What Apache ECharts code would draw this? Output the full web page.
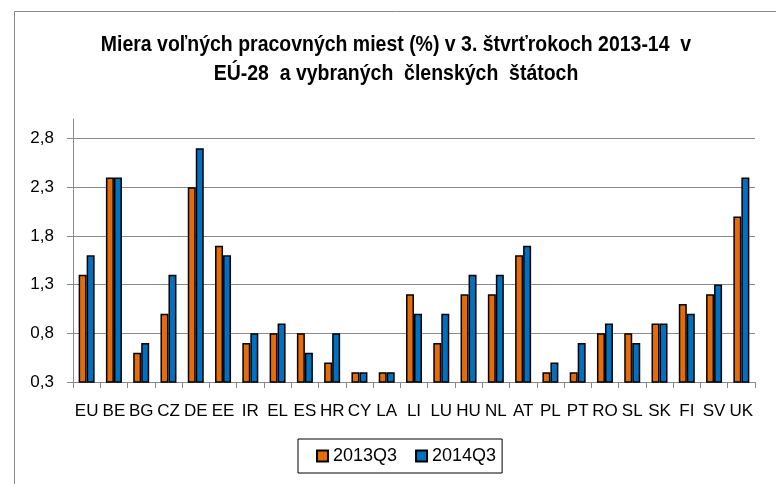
<!DOCTYPE html>
<html>
<head>
<meta charset="utf-8">
<script src="https://cdn.jsdelivr.net/npm/echarts@6/dist/echarts.min.js"></script>
<style>
  html, body { margin: 0; padding: 0; background: #fff; }
  #main { width: 776px; height: 484px; }
</style>
</head>
<body>
<div id="main"></div>
<script>
var countries = ['EU', 'BE', 'BG', 'CZ', 'DE', 'EE', 'IR', 'EL', 'ES', 'HR', 'CY', 'LA', 'LI',
  'LU', 'HU', 'NL', 'AT', 'PL', 'PT', 'RO', 'SL', 'SK', 'FI', 'SV', 'UK']
var q2013 = [1.4, 2.4, 0.6, 1.0, 2.3, 1.7, 0.7, 0.8, 0.8, 0.5, 0.4, 0.4, 1.2,
  0.7, 1.2, 1.2, 1.6, 0.4, 0.4, 0.8, 0.8, 0.9, 1.1, 1.2, 2.0]
var q2014 = [1.6, 2.4, 0.7, 1.4, 2.7, 1.6, 0.8, 0.9, 0.6, 0.8, 0.4, 0.4, 1.0,
  1.0, 1.4, 1.4, 1.7, 0.5, 0.7, 0.9, 0.7, 0.9, 1.0, 1.3, 2.4]
var yTicks = [0.3, 0.8, 1.3, 1.8, 2.3, 2.8]
var seriesNames = ['2013Q3', '2014Q3']
var titleText = 'Miera voľných pracovných miest (%) v 3. štvrťrokoch 2013-14  v\nEÚ-28  a vybraných  členských  štátoch'

var FONT = "'Liberation Sans', Arial, sans-serif"
var chart = echarts.init(document.getElementById('main'))

chart.setOption({
  animation: false,
  graphic: [{
    // outer chart frame
    type: 'rect',
    shape: { x: 14.5, y: 11.5, width: 800, height: 520 },
    style: { fill: 'none', stroke: '#8a8a8a', lineWidth: 1 },
    silent: true
  }, {
    // title, squeezed horizontally to imitate a narrow face
    type: 'text',
    x: 396,
    y: 30,
    scaleX: 0.885,
    style: {
      text: titleText,
      textAlign: 'center',
      textVerticalAlign: 'top',
      font: 'bold 22px ' + FONT,
      lineHeight: 29,
      fill: '#000'
    },
    silent: true
  }],
  legend: {
    data: seriesNames,
    left: 298,
    top: 439,
    padding: [8, 6, 8, 18],
    itemWidth: 11,
    itemHeight: 11,
    itemGap: 18,
    icon: 'rect',
    borderColor: '#000',
    borderWidth: 1,
    textStyle: { fontFamily: FONT, fontSize: 18, color: '#000' }
  },
  grid: {
    left: 73,
    right: 21,
    top: 119,
    bottom: 102
  },
  xAxis: {
    type: 'category',
    data: countries,
    axisLine: { lineStyle: { color: '#8a8a8a', width: 1 } },
    axisTick: { show: true, length: 6, lineStyle: { color: '#8a8a8a' } },
    axisLabel: {
      interval: 0,
      margin: 21,
      fontFamily: FONT,
      fontSize: 17,
      color: '#000'
    }
  },
  yAxis: {
    type: 'value',
    min: 0.3,
    max: 3.0,
    axisLine: { show: true, lineStyle: { color: '#8a8a8a', width: 1 } },
    axisTick: { show: true, length: 6, customValues: yTicks, lineStyle: { color: '#8a8a8a' } },
    splitLine: { show: true, lineStyle: { color: '#8a8a8a', width: 1 } },
    axisLabel: {
      customValues: yTicks,
      margin: 19,
      fontFamily: FONT,
      fontSize: 17,
      color: '#000',
      formatter: function (v) { return v.toFixed(1).replace('.', ',') }
    }
  },
  series: [{
    name: seriesNames[0],
    type: 'bar',
    data: q2013,
    barWidth: 8,
    barGap: '0%',
    itemStyle: { color: '#E46C0A', borderColor: '#000', borderWidth: 1.5 }
  }, {
    name: seriesNames[1],
    type: 'bar',
    data: q2014,
    barWidth: 8,
    barGap: '0%',
    itemStyle: { color: '#0070C0', borderColor: '#000', borderWidth: 1.5 }
  }]
})
</script>
</body>
</html>
